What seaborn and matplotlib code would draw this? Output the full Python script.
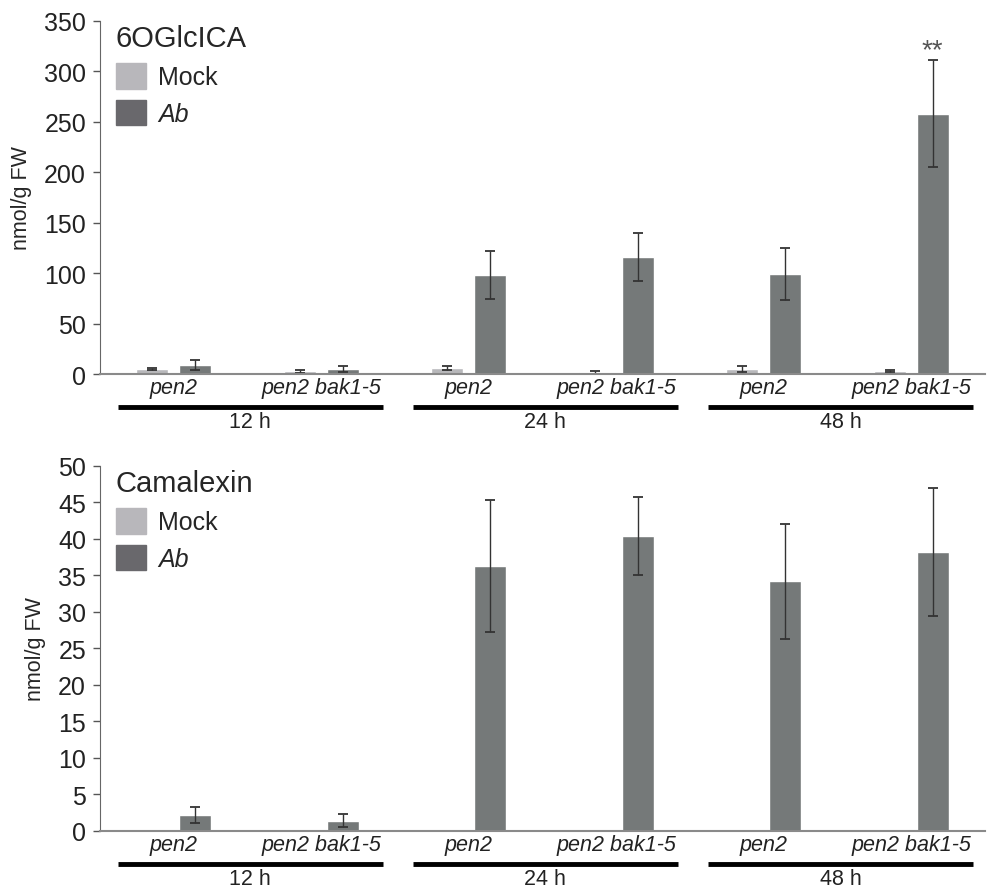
import pandas as pd
import matplotlib.pyplot as plt
import seaborn as sns
from matplotlib.patches import Patch
from matplotlib.transforms import offset_copy

# DATA
times = ['12 h', '24 h', '48 h']
genotypes = ['pen2', 'pen2 bak1-5']
treatments = ['Mock', 'Ab']

glc_mock = [5, 2.5, 6, 1.5, 4.5, 2.5]
glc_mock_sd = [1, 1.5, 2, 1, 3, 1]
glc_ab = [9, 4.5, 98, 116, 99, 258]
glc_ab_sd = [5, 3, 24, 24, 26, 53]

cam_mock = [0, 0, 0, 0, 0, 0]
cam_mock_sd = [0, 0, 0, 0, 0, 0]
cam_ab = [2.2, 1.4, 36.3, 40.4, 34.2, 38.2]
cam_ab_sd = [1.1, 0.9, 9.0, 5.4, 7.9, 8.7]

mock_col = '#b8b8bb'
ab_col = '#757979'
legend_cols = ['#b8b7bb', '#69686c']

sns.set_style('ticks')
plt.rcParams['font.family'] = ['Liberation Sans', 'DejaVu Sans']

conds = [t + '|' + g for t in times for g in genotypes]


def make_df(mock, ab):
    rows = []
    for i, c in enumerate(conds):
        rows.append({'cond': c, 'treatment': 'Mock', 'value': mock[i]})
        rows.append({'cond': c, 'treatment': 'Ab', 'value': ab[i]})
    return pd.DataFrame(rows)


def draw_panel(ax, mock, mock_sd, ab, ab_sd, title, ymax, step):
    df = make_df(mock, ab)
    sns.barplot(data=df, x='cond', y='value', hue='treatment', order=conds,
                hue_order=treatments, palette=[mock_col, ab_col],
                width=0.58, gap=0.25, errorbar=None, legend=False,
                saturation=1, ax=ax)
    # error bars at the centres of the bars seaborn drew
    for cont, sd, vals in zip(ax.containers, [mock_sd, ab_sd], [mock, ab]):
        xs = [p.get_x() + p.get_width() / 2 for p in cont.patches]
        xs_e = [x for x, s in zip(xs, sd) if s > 0]
        ys_e = [v for v, s in zip(vals, sd) if s > 0]
        sd_e = [s for s in sd if s > 0]
        ax.errorbar(xs_e, ys_e, yerr=sd_e, fmt='none', ecolor='#333333',
                    elinewidth=1, capsize=3.5, capthick=1.3)

    ax.set_ylim(0, ymax)
    ax.set_yticks(range(0, ymax + 1, step))
    ax.set_xlim(-0.5, 5.5)
    ax.set_xlabel('')
    ax.set_ylabel('nmol/g FW', fontsize=15.5, labelpad=9)
    ax.set_xticks(range(len(conds)))
    ax.set_xticklabels([c.split('|')[1] for c in conds], fontstyle='italic', fontsize=15.5)
    ax.tick_params(axis='x', length=0, pad=2, colors='#222222')
    ax.tick_params(axis='y', labelsize=18, length=5, width=1, colors='#555555',
                   labelcolor='#222222', pad=5)
    sns.despine(ax=ax)
    ax.spines['left'].set_color('#666666')
    ax.spines['bottom'].set_color('#8a8a8a')
    ax.spines['bottom'].set_linewidth(1.5)

    # time group bars and labels below the axis
    trans_line = offset_copy(ax.get_xaxis_transform(), fig=ax.figure, y=-24, units='points')
    trans_text = offset_copy(ax.get_xaxis_transform(), fig=ax.figure, y=-34, units='points')
    for i, t in enumerate(times):
        ax.plot([2 * i - 0.38, 2 * i + 1.42], [0, 0], color='black', lw=3.5,
                solid_capstyle='butt', transform=trans_line, clip_on=False)
        ax.text(2 * i + 0.52, 0, t, ha='center', va='center', fontsize=15.5,
                color='#222222', transform=trans_text)

    handles = [Patch(color=legend_cols[0], label='Mock'),
               Patch(color=legend_cols[1], label='Ab')]
    leg = ax.legend(handles=handles, title=title, loc='upper left',
                    bbox_to_anchor=(0.018, 0.99), frameon=False, fontsize=18,
                    title_fontsize=21, handlelength=1.2, handleheight=1.2,
                    handletextpad=0.5, labelspacing=0.42, borderpad=0,
                    borderaxespad=0)
    leg._legend_box.align = 'left'
    leg.get_texts()[1].set_fontstyle('italic')
    return ax


fig = plt.figure(figsize=(9.89, 8.95), dpi=100)
ax1 = fig.add_axes([0.101, 0.581, 0.895, 0.3945])
ax2 = fig.add_axes([0.101, 0.0704, 0.895, 0.408])

draw_panel(ax1, glc_mock, glc_mock_sd, glc_ab, glc_ab_sd, '6OGlcICA', 350, 50)
draw_panel(ax2, cam_mock, cam_mock_sd, cam_ab, cam_ab_sd, 'Camalexin', 50, 5)

# significance mark over the last Ab bar
last = ax1.containers[1].patches[-1]
ax1.annotate('**', xy=(last.get_x() + last.get_width() / 2, glc_ab[-1] + glc_ab_sd[-1]),
             xytext=(0, 7), textcoords='offset points', ha='center', va='center',
             fontsize=20, color='#555555')

fig.savefig('out.png', dpi=100)
